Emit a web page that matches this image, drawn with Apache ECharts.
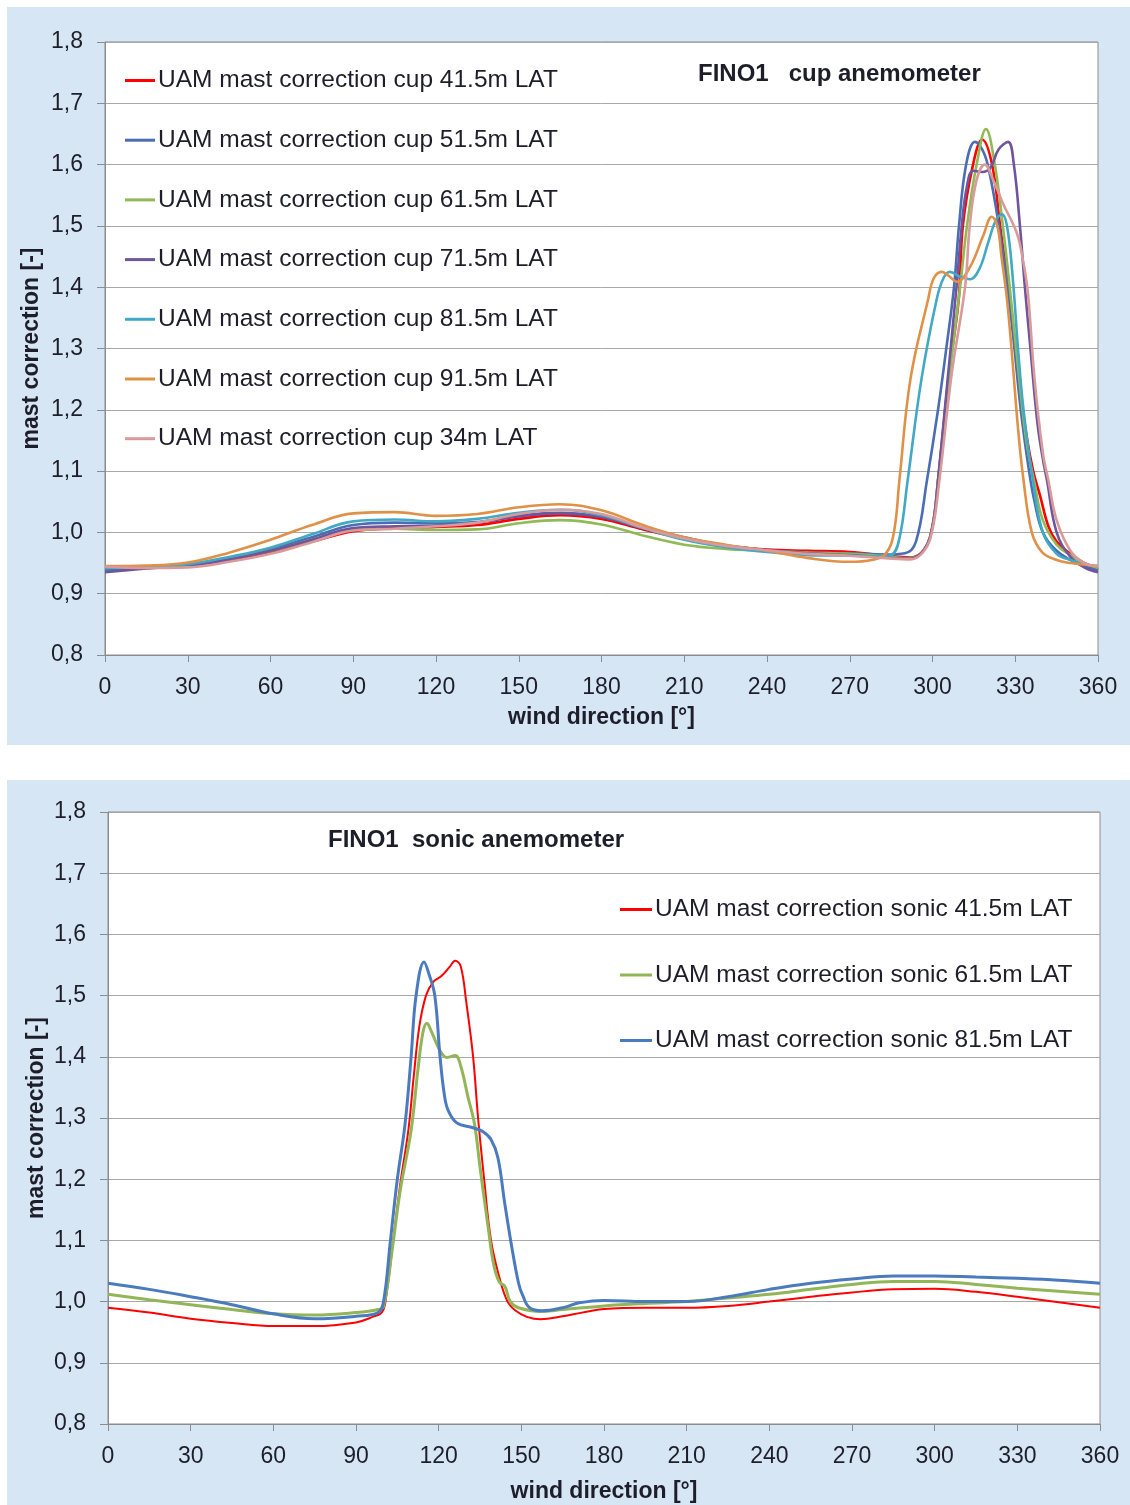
<!DOCTYPE html>
<html>
<head>
<meta charset="utf-8">
<script src="https://cdn.jsdelivr.net/npm/echarts@6/dist/echarts.min.js"></script>
<style>
  html, body { margin: 0; padding: 0; background: #ffffff; width: 1130px; height: 1505px; overflow: hidden; }
  .panel { position: absolute; background: #d6e6f4; }
  #cup { left: 7px; top: 7px; width: 1123px; height: 738px; }
  #sonic { left: 7px; top: 780px; width: 1123px; height: 725px; }
</style>
</head>
<body>
<div id="cup" class="panel"></div>
<div id="sonic" class="panel"></div>
<script>
// ---- FINO1 cup anemometer: mast correction vs wind direction [deg, factor] ----
const cupNames = [
  'UAM mast correction cup 41.5m LAT',
  'UAM mast correction cup 51.5m LAT',
  'UAM mast correction cup 61.5m LAT',
  'UAM mast correction cup 71.5m LAT',
  'UAM mast correction cup 81.5m LAT',
  'UAM mast correction cup 91.5m LAT',
  'UAM mast correction cup 34m LAT'
];

const cup41 = [
  [0,0.940],[15,0.942],[30,0.946],[45,0.955],[60,0.968],[75,0.985],[90,1.002],[105,1.007],[120,1.009],
  [135,1.012],[150,1.022],[165,1.028],[180,1.022],[195,1.005],[210,0.990],[225,0.978],[240,0.972],
  [255,0.970],[270,0.968],[283,0.962],[292,0.959],[297,0.972],[300,1.010],[302,1.085],[306,1.26],
  [309.5,1.38],[311,1.50],[314.7,1.60],[318,1.641],[321.6,1.60],[324.5,1.50],[327.5,1.40],[331,1.26],
  [334,1.16],[336.5,1.10],[339,1.06],[342,1.01],[345,0.985],[350,0.965],[355,0.950],[360,0.940]
];
const cup51 = [
  [0,0.938],[15,0.943],[30,0.947],[45,0.958],[60,0.973],[75,0.992],[90,1.012],[105,1.016],[120,1.015],
  [135,1.017],[150,1.027],[165,1.032],[180,1.025],[195,1.007],[210,0.990],[225,0.978],[240,0.971],
  [255,0.967],[270,0.966],[283,0.964],[290,0.966],[294,0.985],[298,1.085],[302,1.20],[305,1.30],
  [307.8,1.40],[309.6,1.50],[312.2,1.60],[315.4,1.637],[318,1.625],[320,1.60],[323,1.53],[326,1.44],
  [329,1.33],[332,1.20],[335,1.10],[337,1.05],[340,1.00],[345,0.970],[350,0.955],[355,0.945],[360,0.938]
];
const cup61 = [
  [0,0.942],[15,0.944],[30,0.947],[45,0.957],[60,0.970],[75,0.988],[90,1.005],[105,1.006],[120,1.004],
  [135,1.005],[150,1.015],[165,1.020],[180,1.013],[195,0.995],[210,0.980],[225,0.973],[240,0.970],
  [255,0.967],[270,0.965],[283,0.961],[292,0.958],[297,0.972],[300,1.010],[302,1.085],[306,1.25],
  [310,1.40],[312.5,1.50],[316,1.60],[319.4,1.658],[322.6,1.60],[325.5,1.50],[328,1.40],[331,1.27],
  [334,1.15],[337,1.08],[340,1.02],[345,0.980],[350,0.963],[355,0.950],[360,0.942]
];
const cup71 = [
  [0,0.935],[15,0.941],[30,0.946],[45,0.956],[60,0.970],[75,0.988],[90,1.007],[105,1.010],[120,1.011],
  [135,1.016],[150,1.026],[165,1.031],[180,1.025],[195,1.007],[210,0.992],[225,0.979],[240,0.971],
  [255,0.966],[270,0.963],[283,0.959],[292,0.957],[297,0.972],[300,1.010],[302,1.085],[305.5,1.25],
  [308.7,1.40],[310.6,1.50],[312.5,1.565],[314.7,1.590],[318,1.588],[321,1.595],[324,1.625],[327.4,1.637],
  [329.5,1.60],[331.7,1.50],[333.5,1.40],[335.5,1.30],[338,1.18],[340,1.12],[341.5,1.085],[345,1.00],
  [350,0.960],[355,0.943],[360,0.935]
];
const cup81 = [
  [0,0.942],[15,0.944],[30,0.948],[45,0.960],[60,0.975],[75,0.997],[90,1.018],[105,1.021],[120,1.018],
  [135,1.022],[150,1.032],[165,1.037],[180,1.028],[195,1.007],[210,0.988],[225,0.976],[240,0.968],
  [255,0.963],[270,0.962],[280,0.961],[285,0.963],[288,0.990],[291,1.085],[296,1.25],[301.5,1.38],
  [304,1.415],[306.3,1.425],[310,1.417],[313.6,1.413],[317,1.430],[320,1.470],[323,1.510],[325.2,1.519],
  [327,1.50],[329,1.42],[331,1.30],[333,1.20],[336.4,1.085],[340,1.000],[345,0.965],[350,0.955],
  [355,0.948],[360,0.945]
];
const cup91 = [
  [0,0.945],[15,0.946],[30,0.951],[45,0.967],[60,0.988],[75,1.012],[90,1.031],[105,1.033],[120,1.027],
  [135,1.030],[150,1.041],[165,1.046],[180,1.036],[195,1.012],[210,0.992],[225,0.980],[240,0.970],
  [255,0.958],[270,0.952],[278,0.955],[283,0.965],[286,1.000],[288,1.085],[292,1.25],[298.4,1.38],
  [300.5,1.415],[303.4,1.425],[306,1.418],[308.8,1.409],[313.6,1.433],[318.3,1.483],[321.5,1.515],
  [323.5,1.50],[325,1.45],[327,1.38],[329,1.28],[331,1.17],[333,1.085],[336,1.000],[339.7,0.968],
  [345,0.955],[350,0.950],[360,0.945]
];
const cup34 = [
  [0,0.944],[15,0.942],[30,0.943],[45,0.952],[60,0.965],[75,0.984],[90,1.003],[105,1.006],[120,1.010],
  [135,1.016],[150,1.030],[165,1.037],[180,1.030],[195,1.008],[210,0.990],[225,0.978],[240,0.971],
  [255,0.965],[270,0.962],[283,0.958],[292,0.956],[297,0.970],[300,1.005],[302.5,1.085],[307,1.26],
  [311.8,1.40],[313.5,1.50],[316,1.575],[319,1.600],[322,1.575],[325.5,1.537],[330.6,1.488],
  [332.8,1.444],[334.6,1.39],[337,1.25],[340,1.13],[342,1.085],[345,1.02],[350,0.970],[355,0.950],[360,0.945]
];

// ---- FINO1 sonic anemometer ----
const sonicNames = [
  'UAM mast correction sonic 41.5m LAT',
  'UAM mast correction sonic 61.5m LAT',
  'UAM mast correction sonic 81.5m LAT'
];
const sonic41 = [
  [0,0.990],[15,0.982],[30,0.972],[45,0.965],[60,0.960],[75,0.960],[90,0.966],[96,0.975],[99.5,0.983],
  [101,1.010],[103.5,1.10],[106,1.19],[109,1.28],[111,1.37],[113,1.45],[115.4,1.50],[118,1.522],
  [121,1.532],[124,1.547],[126,1.557],[128,1.548],[130,1.49],[132.5,1.40],[134.3,1.30],[136.5,1.20],
  [139,1.10],[142,1.04],[145,1.000],[148,0.985],[152,0.975],[157,0.971],[165,0.976],[172,0.982],
  [180,0.988],[195,0.990],[210,0.990],[225,0.993],[240,1.000],[255,1.008],[270,1.015],[285,1.020],
  [300,1.021],[315,1.016],[330,1.008],[345,0.999],[360,0.990]
];
const sonic61 = [
  [0,1.012],[15,1.003],[30,0.995],[45,0.987],[60,0.980],[75,0.978],[90,0.982],[98,0.987],[100,0.992],
  [103,1.08],[106,1.18],[110,1.28],[112.5,1.38],[114.3,1.44],[115.7,1.455],[117.5,1.44],[120.5,1.41],
  [123,1.399],[126,1.402],[128,1.385],[130.6,1.335],[133,1.29],[135,1.22],[138,1.12],[140,1.06],
  [142,1.032],[144,1.025],[146,1.000],[149,0.990],[157,0.984],[165,0.987],[180,0.993],[195,0.997],
  [210,1.000],[225,1.006],[240,1.012],[255,1.020],[270,1.028],[285,1.033],[300,1.033],[315,1.028],
  [330,1.022],[345,1.017],[360,1.012]
];
const sonic81 = [
  [0,1.030],[15,1.020],[30,1.008],[45,0.995],[60,0.980],[75,0.972],[90,0.976],[98,0.982],[100,1.000],
  [102.5,1.10],[105,1.20],[107.8,1.29],[110,1.40],[111.8,1.50],[114.7,1.555],[116.5,1.535],[118.6,1.50],
  [120.5,1.40],[122,1.34],[123.4,1.313],[126.6,1.292],[132.5,1.284],[136,1.278],[139,1.265],[141.5,1.235],
  [144,1.16],[146.5,1.09],[149,1.03],[150.5,1.010],[153,0.990],[157.5,0.985],[165,0.990],[171,0.998],
  [180,1.002],[195,1.000],[210,1.000],[225,1.008],[240,1.020],[255,1.030],[270,1.037],[285,1.042],
  [300,1.042],[315,1.040],[330,1.038],[345,1.035],[360,1.030]
];

const cupColors = ['#ff0000', '#4a6db3', '#8fba55', '#6f559b', '#42a9c4', '#e09148', '#d89a9a'];
const sonicColors = ['#ff0000', '#92b558', '#4a7bbf'];

const FONT = 'Liberation Sans, Arial, sans-serif';
const TEXT = '#1e1e2a';

function commaLabel(v) { return v.toFixed(1).replace('.', ','); }

function baseAxes(nameGapX, nameGapY) {
  return {
    xAxis: {
      type: 'value', min: 0, max: 360, interval: 30,
      name: 'wind direction [°]', nameLocation: 'middle', nameGap: nameGapX, nameMoveOverlap: false,
      nameTextStyle: { fontFamily: FONT, fontSize: 23, fontWeight: 'bold', color: TEXT },
      axisLine: { show: true, lineStyle: { color: '#8c8c8c', width: 1 } },
      axisTick: { show: true, length: 7, lineStyle: { color: '#8c8c8c' } },
      axisLabel: { fontFamily: FONT, fontSize: 23, color: TEXT, margin: 21 },
      splitLine: { show: false }
    },
    yAxis: {
      type: 'value', min: 0.8, max: 1.8, interval: 0.1,
      name: 'mast correction [-]', nameLocation: 'middle', nameGap: nameGapY, nameRotate: 90, nameMoveOverlap: false,
      nameTextStyle: { fontFamily: FONT, fontSize: 23, fontWeight: 'bold', color: TEXT },
      axisLine: { show: true, lineStyle: { color: '#8c8c8c', width: 1 } },
      axisTick: { show: true, length: 8, lineStyle: { color: '#8c8c8c' } },
      axisLabel: { fontFamily: FONT, fontSize: 23, color: TEXT, margin: 22, formatter: commaLabel },
      splitLine: { show: true, lineStyle: { color: '#a8a8a8', width: 1 } }
    }
  };
}

function lineSeries(name, data, color, width) {
  return {
    name: name, type: 'line', data: data, showSymbol: false, symbol: 'none',
    smooth: 0.4,
    lineStyle: { color: color, width: width }, itemStyle: { color: color },
    animation: false
  };
}

const legendText = { fontFamily: FONT, fontSize: 24.5, color: TEXT, lineHeight: 24, padding: [0, 0, 0, -2] };

// Top chart
const cupChart = echarts.init(document.getElementById('cup'), null, { renderer: 'canvas' });
const cupData = [cup41, cup51, cup61, cup71, cup81, cup91, cup34];
const cupAxes = baseAxes(51.5, 61.5);
cupChart.setOption({
  backgroundColor: 'transparent',
  animation: false,
  title: {
    text: 'FINO1   cup anemometer', left: 686, top: 50,
    textStyle: { fontFamily: FONT, fontSize: 24, fontWeight: 'bold', color: TEXT }
  },
  grid: {
    left: 98, right: 32, top: 35, bottom: 90, outerBoundsMode: 'none', containLabel: false,
    show: true, backgroundColor: '#ffffff', borderColor: '#8c8c8c', borderWidth: 1
  },
  legend: {
    orient: 'vertical', left: 113, top: 56, icon: 'rect', itemWidth: 30, itemHeight: 3,
    itemGap: 34.7, data: cupNames, textStyle: legendText
  },
  xAxis: cupAxes.xAxis,
  yAxis: cupAxes.yAxis,
  series: cupNames.map((n, i) => lineSeries(n, cupData[i], cupColors[i], 2.6))
});

// Bottom chart
const sonicChart = echarts.init(document.getElementById('sonic'), null, { renderer: 'canvas' });
const sonicData = [sonic41, sonic61, sonic81];
const sonicWidths = [2, 3, 3];
const sonicAxes = baseAxes(56.5, 59.5);
sonicChart.setOption({
  backgroundColor: 'transparent',
  animation: false,
  title: {
    text: 'FINO1  sonic anemometer', left: 316, top: 43,
    textStyle: { fontFamily: FONT, fontSize: 24, fontWeight: 'bold', color: TEXT }
  },
  grid: {
    left: 101, right: 30, top: 32, bottom: 81, outerBoundsMode: 'none', containLabel: false,
    show: true, backgroundColor: '#ffffff', borderColor: '#8c8c8c', borderWidth: 1
  },
  legend: {
    orient: 'vertical', left: 608, top: 112, icon: 'rect', itemWidth: 32, itemHeight: 3,
    itemGap: 40.5, data: sonicNames, textStyle: legendText
  },
  xAxis: sonicAxes.xAxis,
  yAxis: sonicAxes.yAxis,
  series: sonicNames.map((n, i) => lineSeries(n, sonicData[i], sonicColors[i], sonicWidths[i]))
});
</script>
</body>
</html>
